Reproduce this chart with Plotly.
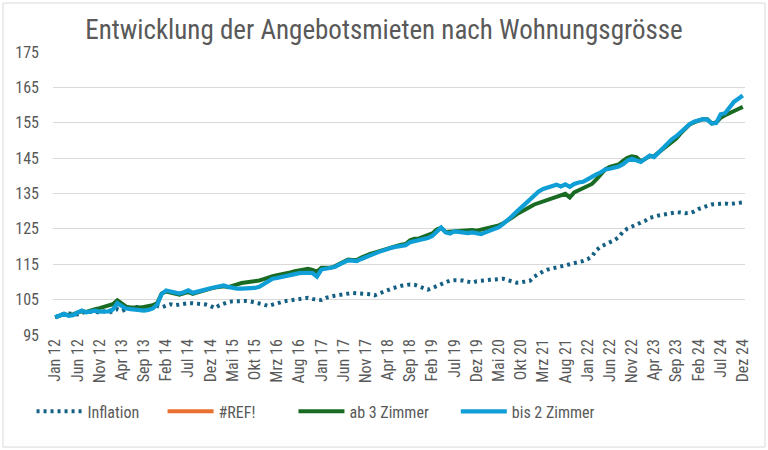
import plotly.graph_objects as go

months = ["Jan", "Feb", "Mrz", "Apr", "Mai", "Jun", "Jul", "Aug", "Sep", "Okt", "Nov", "Dez"]
years = ["12", "13", "14", "15", "16", "17", "18", "19", "20", "21", "22", "23", "24"]
categories = [f"{m} {y}" for y in years for m in months]
tick_labels = categories[::5]

inflation = [
    100.0, 100.5, 101.0, 101.1, 100.9, 100.8, 101.2, 101.6, 101.6, 101.6, 101.3, 101.7,
    101.2, 101.9, 102.3, 101.8, 102.3, 102.4, 102.9, 102.9, 102.8, 102.6, 102.8, 103.2,
    102.8, 103.3, 103.7, 103.4, 103.6, 103.9, 104.0, 104.0, 103.9, 103.8, 103.6, 103.2,
    102.6, 103.4, 103.9, 104.3, 104.5, 104.6, 104.6, 104.6, 104.5, 104.3, 103.9, 103.6,
    103.2, 103.6, 104.1, 104.3, 104.6, 104.8, 105.1, 105.3, 105.4, 105.5, 105.2, 105.0,
    104.9, 105.5, 105.9, 106.1, 106.3, 106.5, 106.8, 106.9, 106.8, 106.7, 106.7, 106.5,
    106.2, 106.8, 107.3, 107.7, 108.2, 108.6, 108.9, 109.1, 109.3, 109.2, 108.7, 108.2,
    107.8, 108.3, 108.9, 109.5, 110.0, 110.4, 110.5, 110.5, 110.4, 110.1, 109.8, 110.2,
    110.4, 110.5, 110.6, 110.7, 110.8, 110.9, 110.5, 110.0, 109.8, 109.9, 110.0, 110.3,
    111.5, 112.3, 113.0, 113.5, 113.8, 114.1, 114.5, 114.7, 114.9, 115.2, 115.5, 115.9,
    116.4, 117.2, 119.0, 120.0, 120.6, 121.1, 121.8, 122.6, 124.2, 125.1, 125.6, 126.0,
    126.6, 127.3, 128.1, 128.6, 128.8, 129.0, 129.2, 129.5, 129.7, 129.6, 129.4, 129.5,
    129.9, 130.6, 131.2, 131.5, 131.9, 132.0, 132.2, 132.2, 132.0, 132.1, 132.4, 132.5,
]

ref_error = [None] * len(categories)

ab_3_zimmer = [
    100.0, 100.6, 100.9, 100.6, 100.8, 101.3, 101.7, 101.5, 102.0, 102.3, 102.6, 102.9,
    103.2, 103.7, 104.8, 104.0, 103.0, 102.8, 102.7, 102.8, 102.9, 103.1, 103.4, 104.0,
    106.7, 107.3, 107.0, 106.5, 106.4, 106.8, 107.2, 106.6, 107.0, 107.5, 107.9, 108.1,
    108.4, 108.7, 108.8, 108.5, 108.8, 109.3, 109.7, 109.9, 109.9, 110.1, 110.4, 110.8,
    111.3, 111.6, 111.9, 112.1, 112.4, 112.7, 113.0, 113.3, 113.6, 113.7, 113.4, 112.9,
    114.0, 113.9, 114.0, 114.4, 115.1, 115.8, 116.3, 116.2, 116.2, 116.9, 117.5, 117.9,
    118.3, 118.7, 119.2, 119.6, 119.9, 120.2, 120.5, 120.7, 121.8, 122.2, 122.3, 122.7,
    123.2, 123.7, 124.8, 125.3, 124.1, 124.2, 124.5, 124.6, 124.5, 124.6, 124.7, 124.5,
    124.8, 125.0, 125.3, 125.6, 126.0, 126.6, 127.3, 128.2, 129.1, 129.9, 130.5, 131.2,
    131.9, 132.3, 132.7, 133.3, 133.7, 134.1, 134.6, 134.9, 133.9, 135.3, 135.9, 136.5,
    136.9, 137.7, 139.0, 140.6, 141.8, 142.5, 142.9, 143.2, 144.2, 145.1, 145.5, 145.3,
    144.1, 144.8, 145.5, 145.6, 146.6, 147.6, 148.7, 149.6, 150.5, 152.0, 153.3, 154.5,
    155.1, 155.6, 156.0, 156.0, 154.8, 155.1, 156.4, 157.1, 157.6, 158.3, 158.9, 159.5,
]

bis_2_zimmer = [
    100.0, 100.5, 101.0, 100.4, 100.6, 101.3, 101.9, 101.4, 101.7, 101.9, 101.6, 101.8,
    101.7, 102.2, 104.0, 103.2, 102.5, 102.3, 102.1, 101.9, 101.9, 102.1, 102.5, 103.6,
    106.6, 107.6, 107.3, 106.9, 106.7, 107.1, 107.6, 106.9, 107.3, 107.7, 107.9, 108.2,
    108.5, 108.9, 109.0, 108.6, 108.2, 108.1, 108.1, 108.1, 108.2, 108.3, 108.6, 109.4,
    110.4, 110.9, 111.1, 111.3, 111.6, 111.9, 112.2, 112.5, 112.7, 112.6, 112.5, 111.5,
    113.5, 113.7, 113.8, 114.2, 114.9, 115.6, 116.1, 116.0, 115.9, 116.5, 117.1, 117.6,
    118.0, 118.5, 119.0, 119.4, 119.7, 120.0, 120.3, 120.4, 121.2, 121.5, 121.7, 122.1,
    122.4, 123.0, 124.4, 125.4, 124.0, 123.7, 124.3, 124.2, 124.0, 123.8, 124.0, 123.6,
    123.5, 124.0, 124.5, 124.9, 125.5, 126.4, 127.4, 128.6, 129.8, 131.0, 132.1, 133.4,
    134.7, 135.6, 136.3, 136.7, 137.2, 137.5, 137.0, 137.6, 136.9, 137.7, 138.1, 138.3,
    139.0, 139.8, 140.4, 141.0, 141.8, 142.0, 142.2, 142.6, 143.3, 144.3, 144.8, 144.5,
    143.9, 144.8, 145.7, 145.3, 146.6, 147.9, 149.2, 150.3, 151.2, 152.4, 153.5, 154.6,
    155.3, 155.7, 156.0, 155.9, 154.8, 154.9, 157.4, 157.7, 159.5, 160.9, 161.8, 162.7,
]

y_ticks = [95, 105, 115, 125, 135, 145, 155, 165, 175]
legend_names = ["Inflation", "#REF!", "ab 3 Zimmer", "bis 2 Zimmer"]
NB = "\u00a0"

FONT = "Liberation Sans Narrow, Roboto Condensed, Roboto, Arial, sans-serif"

fig = go.Figure()
fig.add_trace(go.Scatter(x=categories, y=inflation, name=legend_names[0] + NB * 5, mode="lines",
                         line=dict(color="#156082", width=4, dash="3px,4px")))
fig.add_trace(go.Scatter(x=categories, y=ref_error, name=legend_names[1] + NB * 9, mode="lines",
                         line=dict(color="#E97132", width=4)))
fig.add_trace(go.Scatter(x=categories, y=ab_3_zimmer, name=legend_names[2] + NB * 6, mode="lines",
                         line=dict(color="#196B24", width=4)))
fig.add_trace(go.Scatter(x=categories, y=bis_2_zimmer, name=legend_names[3], mode="lines",
                         line=dict(color="#0F9ED5", width=4.2)))

fig.update_layout(
    width=768, height=450,
    margin=dict(l=53, r=23, t=52, b=115),
    paper_bgcolor="white", plot_bgcolor="white",
    font=dict(family=FONT, size=16, color="#595959"),
    title=dict(text="Entwicklung der Angebotsmieten nach Wohnungsgrösse",
               x=0.5, xref="container", xanchor="center", y=0.935, yanchor="middle",
               font=dict(family=FONT, size=27, color="#595959")),
    showlegend=True,
    legend=dict(orientation="h", x=-0.031, xanchor="left", y=-0.27, yanchor="middle",
                font=dict(family=FONT, size=16, color="#595959"), itemwidth=46,
                bgcolor="rgba(0,0,0,0)"),
    shapes=[dict(type="rect", xref="paper", yref="paper",
                 x0=-0.0723, x1=1.0289, y0=-0.396, y1=1.173,
                 line=dict(color="#D9D9D9", width=1), fillcolor="rgba(0,0,0,0)", layer="below")],
)
fig.update_xaxes(type="category", range=[-0.5, len(categories) - 0.5],
                 tickmode="array", tickvals=tick_labels, ticktext=tick_labels,
                 tickangle=-90, showgrid=False, showline=False, zeroline=False,
                 ticks="", tickfont=dict(family=FONT, size=16, color="#595959"))
fig.update_yaxes(range=[95, 175], tickmode="array", tickvals=y_ticks,
                 showgrid=True, gridcolor="#D9D9D9", gridwidth=1, zeroline=False,
                 showline=False, ticks="", ticklabelstandoff=13,
                 tickfont=dict(family=FONT, size=16, color="#595959"))

fig.write_html("out.html", config={"displayModeBar": False},
               post_script="document.body.style.margin='0px';document.body.style.overflow='hidden';")
